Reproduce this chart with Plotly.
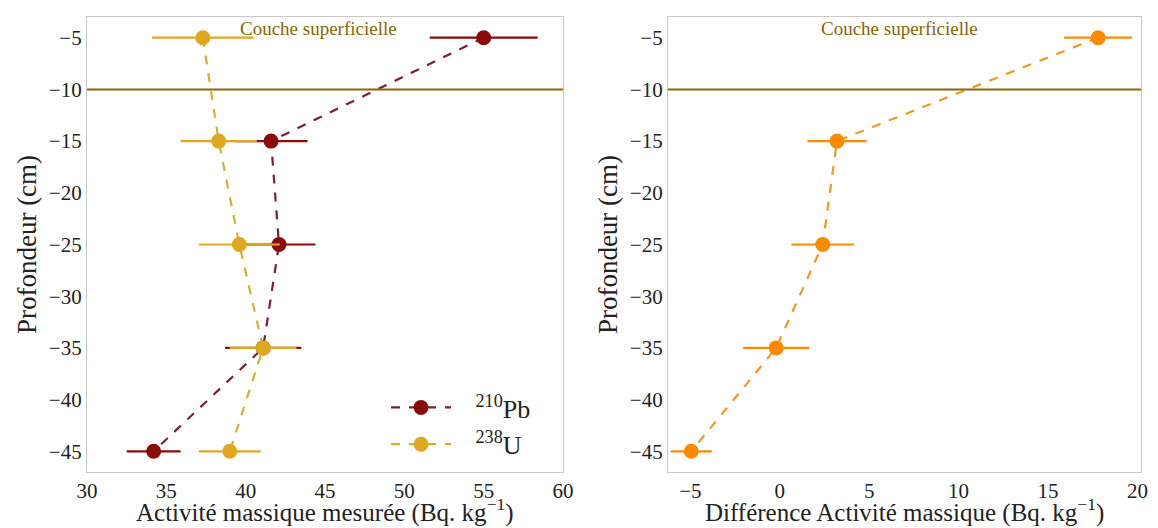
import plotly.graph_objects as go

# Data
depth = [-5, -15, -25, -35, -45]
pb210 = [55.0, 41.6, 42.1, 41.1, 34.2]
pb210_err = [3.4, 2.3, 2.3, 2.4, 1.7]
u238 = [37.3, 38.3, 39.6, 41.1, 39.0]
u238_err = [3.2, 2.4, 2.55, 2.1, 1.95]
diff = [17.8, 3.2, 2.4, -0.2, -4.95]
diff_err = [1.9, 1.65, 1.75, 1.85, 1.15]
surface_depth = -10

FONT = "Liberation Serif"
PB_COL = "#8b0a0a"
PB_LINE = "#7a1d3d"
U_COL = "#e0a81e"
U_LINE = "#cdb52a"
D_COL = "#ff8a00"
D_LINE = "#f09a20"
BROWN = "#8b6508"

# page body has an 8px default margin: compensate
W, H, OFF = 1150, 520, 8


def fx(px):
    return (px - OFF) / W


def fy(py):
    return (H - (py - OFF)) / H


fig = go.Figure()

fig.add_trace(go.Scatter(
    x=pb210, y=depth, mode="lines+markers", name="&nbsp;&nbsp;&nbsp;<sup>210</sup>Pb",
    line=dict(color=PB_LINE, width=2.2, dash="dash"),
    marker=dict(color=PB_COL, size=15),
    error_x=dict(type="data", array=pb210_err, color=PB_COL, thickness=2.2, width=0),
    xaxis="x", yaxis="y"))
fig.add_trace(go.Scatter(
    x=u238, y=depth, mode="lines+markers", name="&nbsp;&nbsp;&nbsp;<sup>238</sup>U",
    line=dict(color=U_LINE, width=2.2, dash="dash"),
    marker=dict(color=U_COL, size=15),
    error_x=dict(type="data", array=u238_err, color=U_COL, thickness=2.2, width=0),
    xaxis="x", yaxis="y"))
fig.add_trace(go.Scatter(
    x=diff, y=depth, mode="lines+markers", name="diff", showlegend=False,
    line=dict(color=D_LINE, width=2.2, dash="dash"),
    marker=dict(color=D_COL, size=15),
    error_x=dict(type="data", array=diff_err, color=D_COL, thickness=2.2, width=0),
    xaxis="x2", yaxis="y2"))

# horizontal surface-layer lines
for xa, ya in (("x", "y"), ("x2", "y2")):
    fig.add_shape(type="line", xref=f"{xa} domain", yref=ya, x0=0, x1=1,
                  y0=surface_depth, y1=surface_depth,
                  line=dict(color=BROWN, width=2))

fig.add_annotation(x=44.6, y=-4.1, xref="x", yref="y", text="Couche superficielle",
                   showarrow=False, font=dict(family=FONT, size=19, color=BROWN))
fig.add_annotation(x=6.7, y=-4.1, xref="x2", yref="y2", text="Couche superficielle",
                   showarrow=False, font=dict(family=FONT, size=19, color=BROWN))

# x-axis titles placed at the bottom edge
xt_font = dict(family=FONT, size=25, color="#222")
fig.add_annotation(x=0.5, y=0, xref="x domain", yref="paper", yanchor="bottom",
                   text="Activité massique mesurée (Bq. kg<sup>−1</sup>)",
                   showarrow=False, font=xt_font, borderpad=0)
fig.add_annotation(x=0.5, y=0, xref="x2 domain", yref="paper", yanchor="bottom",
                   text="Différence Activité massique (Bq. kg<sup>−1</sup>)",
                   showarrow=False, font=xt_font, borderpad=0)

ax_common = dict(showgrid=False, zeroline=False, showline=True, mirror=True,
                 linecolor="#c8c8c8", linewidth=1.2, ticks="", automargin=False,
                 tickfont=dict(family=FONT, size=21, color="#222"))
yt_font = dict(family=FONT, size=27, color="#222")

ydom = [fy(472), fy(17)]

fig.update_layout(
    width=W, height=H,
    margin=dict(l=0, r=0, t=0, b=0),
    paper_bgcolor="white", plot_bgcolor="white",
    xaxis=dict(domain=[fx(87), fx(563)], range=[30, 60], dtick=5, anchor="y",
               **ax_common),
    yaxis=dict(domain=ydom, range=[-47, -3], tickvals=list(range(-45, 0, 5)),
               anchor="x", title=dict(text="Profondeur (cm)", standoff=4, font=yt_font),
               **ax_common),
    xaxis2=dict(domain=[fx(668), fx(1141)], range=[-6.25, 20.2], dtick=5, anchor="y2",
                **ax_common),
    yaxis2=dict(domain=ydom, range=[-47, -3], tickvals=list(range(-45, 0, 5)),
                anchor="x2", title=dict(text="Profondeur (cm)", standoff=4, font=yt_font),
                **ax_common),
    legend=dict(x=fx(386), y=fy(384), xanchor="left", yanchor="top",
                bgcolor="rgba(255,255,255,0)", borderwidth=0,
                font=dict(family=FONT, size=26, color="#222"),
                itemwidth=60, tracegroupgap=4),
    showlegend=True,
)

fig.write_html("out.html")
